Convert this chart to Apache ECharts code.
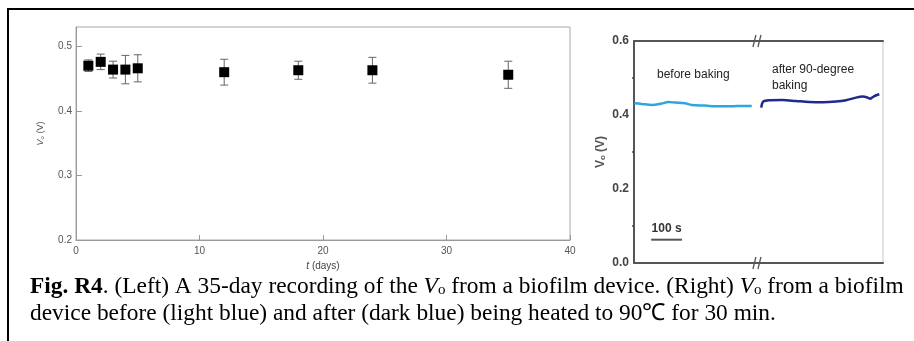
<!DOCTYPE html>
<html><head><meta charset="utf-8">
<script src="https://cdn.jsdelivr.net/npm/echarts@6/dist/echarts.min.js"></script>
<style>html,body{margin:0;padding:0;background:#fff}#c{width:914px;height:341px}</style>
</head><body><div id="c"></div>
<script>
// Left panel: 35-day recording
const days = [1, 2, 3, 4, 5, 12, 18, 24, 35];
const voMean = [0.470, 0.476, 0.464, 0.464, 0.466, 0.460, 0.463, 0.463, 0.456];
const voErr = [0.009, 0.012, 0.013, 0.022, 0.021, 0.020, 0.014, 0.020, 0.021];
const leftYTicks = [0.2, 0.3, 0.4, 0.5];
const leftXTicks = [0, 10, 20, 30, 40];
// Right panel: before / after baking (time in s, Vo in V)
const beforeT = [1, 25, 58, 90, 112, 134, 166, 188, 231, 275, 318, 351, 383];
const beforeV = [0.432, 0.430, 0.427, 0.431, 0.435, 0.4335, 0.4316, 0.427, 0.4254, 0.4235, 0.4235, 0.4245, 0.4243];
const afterT = [414, 420, 440, 483, 527, 570, 614, 657, 690, 722, 744, 760, 768, 777, 790, 798];
const afterV = [0.420, 0.436, 0.440, 0.4405, 0.4378, 0.4351, 0.4343, 0.4362, 0.440, 0.447, 0.4497, 0.447, 0.444, 0.4486, 0.454, 0.456];
const rightYTicks = [0.0, 0.2, 0.4, 0.6];
const scaleBarT = [56, 156];
const scaleBarV = 0.063;
const breakT = 400;

const chart = echarts.init(document.getElementById('c'), null, {renderer: 'canvas'});
const sans = 'Arial, "Liberation Sans", sans-serif';
const serif = '"Liberation Serif", "Times New Roman", serif';
const capSize = 23.4;

const errData = days.map((d, i) => [d, voMean[i] - voErr[i], voMean[i] + voErr[i]]);

const option = {
  animation: false,
  grid: [
    {left: 76, top: 27, width: 494, height: 213, show: true, borderColor: '#a8a8a8', borderWidth: 1},
    {left: 634, top: 41, width: 249, height: 222, show: true, borderColor: '#c8c8c8', borderWidth: 1}
  ],
  xAxis: [
    {gridIndex: 0, type: 'value', min: 0, max: 40, interval: 10,
     axisLine: {lineStyle: {color: '#999', width: 1}},
     axisTick: {inside: true, length: 5, lineStyle: {color: '#999'}},
     axisLabel: {color: '#555', fontSize: 10, fontFamily: sans, margin: 6},
     splitLine: {show: false},
     name: '{i|t} (days)', nameLocation: 'middle', nameGap: 20,
     nameTextStyle: {color: '#444', fontSize: 10, fontFamily: sans,
       rich: {i: {fontStyle: 'italic', fontSize: 10, fontFamily: sans, color: '#444'}}}},
    {gridIndex: 1, type: 'value', min: 0, max: 810,
     axisLine: {lineStyle: {color: '#555', width: 2}},
     axisTick: {show: false}, axisLabel: {show: false}, splitLine: {show: false}},
    {gridIndex: 1, type: 'value', min: 0, max: 810, position: 'top',
     axisLine: {lineStyle: {color: '#555', width: 2}},
     axisTick: {show: false}, axisLabel: {show: false}, splitLine: {show: false}}
  ],
  yAxis: [
    {gridIndex: 0, type: 'value', min: 0.2, max: 0.53, interval: 0.1,
     axisLine: {lineStyle: {color: '#999', width: 1}},
     axisTick: {inside: true, length: 6, lineStyle: {color: '#999'}},
     axisLabel: {color: '#555', fontSize: 10, fontFamily: sans, margin: 4,
       showMaxLabel: false, formatter: v => leftYTicks.some(t => Math.abs(t - v) < 1e-6) ? v.toFixed(1) : ''},
     splitLine: {show: false},
     name: '{i|V}{s|o} (V)', nameLocation: 'middle', nameGap: 31, nameRotate: 90,
     nameTextStyle: {color: '#555', fontSize: 9, fontFamily: sans,
       rich: {i: {fontStyle: 'italic', fontSize: 9, color: '#555'}, s: {fontSize: 6, color: '#555', verticalAlign: 'bottom'}}}},
    {gridIndex: 1, type: 'value', min: 0, max: 0.6, interval: 0.2,
     axisLine: {lineStyle: {color: '#555', width: 2}},
     axisTick: {show: false},
     minorTick: {show: true, splitNumber: 2, length: 2, lineStyle: {color: '#444', width: 1.5}},
     axisLabel: {color: '#444', fontSize: 12, fontWeight: 'bold', fontFamily: sans, margin: 5,
       formatter: v => rightYTicks.some(t => Math.abs(t - v) < 1e-6) ? v.toFixed(1) : ''},
     splitLine: {show: false},
     name: 'V{s|o} (V)', nameLocation: 'middle', nameGap: 27, nameRotate: 90,
     nameTextStyle: {color: '#555', fontSize: 12, fontWeight: 'bold', fontFamily: sans,
       rich: {s: {fontSize: 8, color: '#555', fontWeight: 'bold', verticalAlign: 'bottom'}}}}
  ],
  series: [
    {type: 'custom', xAxisIndex: 0, yAxisIndex: 0, data: errData, z: 2,
     renderItem: (params, api) => {
       const x = api.coord([api.value(0), api.value(1)])[0];
       const lo = api.coord([api.value(0), api.value(1)])[1];
       const hi = api.coord([api.value(0), api.value(2)])[1];
       const st = {stroke: '#666', lineWidth: 1};
       return {type: 'group', children: [
         {type: 'line', shape: {x1: x, y1: lo, x2: x, y2: hi}, style: st},
         {type: 'line', shape: {x1: x - 4, y1: lo, x2: x + 4, y2: lo}, style: st},
         {type: 'line', shape: {x1: x - 4, y1: hi, x2: x + 4, y2: hi}, style: st}
       ]};
     }},
    {type: 'scatter', xAxisIndex: 0, yAxisIndex: 0, symbol: 'rect', symbolSize: 10, z: 3,
     itemStyle: {color: '#000', opacity: 1}, data: days.map((d, i) => [d, voMean[i]])},
    {type: 'line', xAxisIndex: 1, yAxisIndex: 1, showSymbol: false, smooth: 0.3,
     lineStyle: {color: '#2aa7e1', width: 2.5}, data: beforeT.map((t, i) => [t, beforeV[i]])},
    {type: 'line', xAxisIndex: 1, yAxisIndex: 1, showSymbol: false, smooth: 0.3,
     lineStyle: {color: '#1f2a8c', width: 2.5}, data: afterT.map((t, i) => [t, afterV[i]])},
    {type: 'line', xAxisIndex: 1, yAxisIndex: 1, showSymbol: false,
     lineStyle: {color: '#555', width: 2}, data: scaleBarT.map(t => [t, scaleBarV]),
     markPoint: {symbol: 'circle', symbolSize: 0,
       label: {show: true, formatter: '100 s', color: '#333', fontWeight: 'bold', fontSize: 12, fontFamily: sans, offset: [0, -11]},
       data: [{coord: [(scaleBarT[0] + scaleBarT[1]) / 2, scaleBarV]}]}}
  ],
  graphic: [
    {type: 'line', shape: {x1: 7, y1: 9, x2: 914, y2: 9}, style: {stroke: '#000', lineWidth: 2}},
    {type: 'line', shape: {x1: 8, y1: 8, x2: 8, y2: 341}, style: {stroke: '#000', lineWidth: 2}},
    {type: 'text', left: 657, top: 69, style: {text: 'before baking', fill: '#222', font: '12px ' + sans}},
    {type: 'text', left: 772, top: 62, style: {text: 'after 90-degree\nbaking', fill: '#222', font: '12px ' + sans, lineHeight: 16}},
    {type: 'text', left: 30, top: 275, style: {
      text: '{b|Fig. R4}{n|. (Left) A 35-day recording of the }{i|V}{s|o}{n| from a biofilm device. (Right) }{i|V}{s|o}{n| from a biofilm}',
      rich: {
        b: {fontFamily: serif, fontSize: capSize, fontWeight: 'bold', fill: '#000', lineHeight: 26, verticalAlign: 'bottom'},
        n: {fontFamily: serif, fontSize: capSize, fill: '#000', lineHeight: 26, verticalAlign: 'bottom'},
        i: {fontFamily: serif, fontSize: capSize, fontStyle: 'italic', fill: '#000', lineHeight: 26, verticalAlign: 'bottom'},
        s: {fontFamily: serif, fontSize: 15, fill: '#000', lineHeight: 22, verticalAlign: 'bottom'}
      }}},
    {type: 'text', left: 30, top: 302, style: {
      text: 'device before (light blue) and after (dark blue) being heated to 90℃ for 30 min.',
      fill: '#000', font: capSize + 'px ' + serif}}
  ]
};
chart.setOption(option);

// axis break marks at breakT on bottom and top axes of right panel
const bx = chart.convertToPixel({xAxisIndex: 1}, breakT);
const yBottom = chart.convertToPixel({yAxisIndex: 1}, 0);
const yTop = chart.convertToPixel({yAxisIndex: 1}, 0.6);
function breakMark(y) {
  return {type: 'group', children: [
    {type: 'rect', shape: {x: bx - 3, y: y - 2, width: 7, height: 4}, style: {fill: '#fff'}},
    {type: 'line', shape: {x1: bx - 4, y1: y + 6, x2: bx - 1, y2: y - 6}, style: {stroke: '#555', lineWidth: 1.3}},
    {type: 'line', shape: {x1: bx + 1, y1: y + 6, x2: bx + 4, y2: y - 6}, style: {stroke: '#555', lineWidth: 1.3}}
  ]};
}
chart.setOption({graphic: option.graphic.concat([breakMark(yBottom), breakMark(yTop)])});
</script></body></html>
